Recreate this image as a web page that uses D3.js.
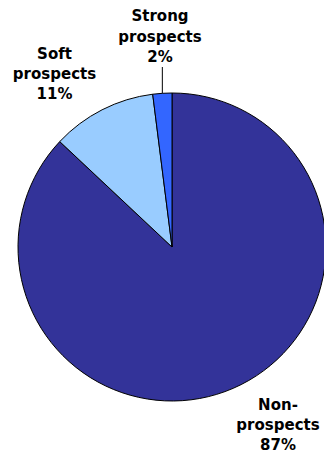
<!DOCTYPE html>
<html>
<head>
<meta charset="utf-8">
<script src="https://cdn.jsdelivr.net/npm/d3@7"></script>
<style>
  html, body { margin: 0; padding: 0; background: #fff; }
  svg { display: block; }
  text { font-family: "DejaVu Sans", Verdana, sans-serif; font-weight: bold; font-size: 15px; fill: #000; }
</style>
</head>
<body>
<svg id="chart" width="324" height="454"></svg>
<script>
// Prospect segments, drawn clockwise from 12 o'clock
const categories = ["Non-prospects", "Soft prospects", "Strong prospects"];
const shares = [87, 11, 2];
const labelLines = [["Non-", "prospects", "87%"], ["Soft", "prospects", "11%"], ["Strong", "prospects", "2%"]];
const colors = ["#333399", "#99CCFF", "#3366FF"];

const width = 324, height = 454;
const cx = 172, cy = 247, radius = 154;

const svg = d3.select("#chart");
const g = svg.append("g").attr("transform", `translate(${cx},${cy})`);

const pie = d3.pie().sort(null).value(d => d.value);
const arcs = pie(categories.map((c, i) => ({ name: c, value: shares[i], lines: labelLines[i], color: colors[i] })));
const arc = d3.arc().innerRadius(0).outerRadius(radius);

g.selectAll("path.slice")
  .data(arcs)
  .join("path")
  .attr("class", "slice")
  .attr("d", arc)
  .attr("fill", d => d.data.color)
  .attr("stroke", "#000")
  .attr("stroke-width", 1)
  .attr("stroke-linejoin", "round");

// Label placement (middle-line baseline, relative to pie center)
const labelPos = {
  "Non-prospects": { x: 106, y: 183 },
  "Soft prospects": { x: -117.5, y: -168 },
  "Strong prospects": { x: -12, y: -205.5 }
};
const lineH = 20.3;

arcs.forEach(d => {
  const p = labelPos[d.data.name];
  const n = d.data.lines.length;
  const t = g.append("text").attr("text-anchor", "middle");
  d.data.lines.forEach((ln, i) => {
    t.append("tspan")
      .attr("x", p.x)
      .attr("y", p.y + (i - (n - 1) / 2) * lineH)
      .text(ln);
  });
});

// Leader line for the thin slice
const thin = arcs[2];
const mid = (thin.startAngle + thin.endAngle) / 2;
const ex = radius * Math.sin(mid), ey = -radius * Math.cos(mid);
g.append("line")
  .attr("x1", ex).attr("y1", ey)
  .attr("x2", ex).attr("y2", -180)
  .attr("stroke", "#000").attr("stroke-width", 1);
</script>
</body>
</html>
